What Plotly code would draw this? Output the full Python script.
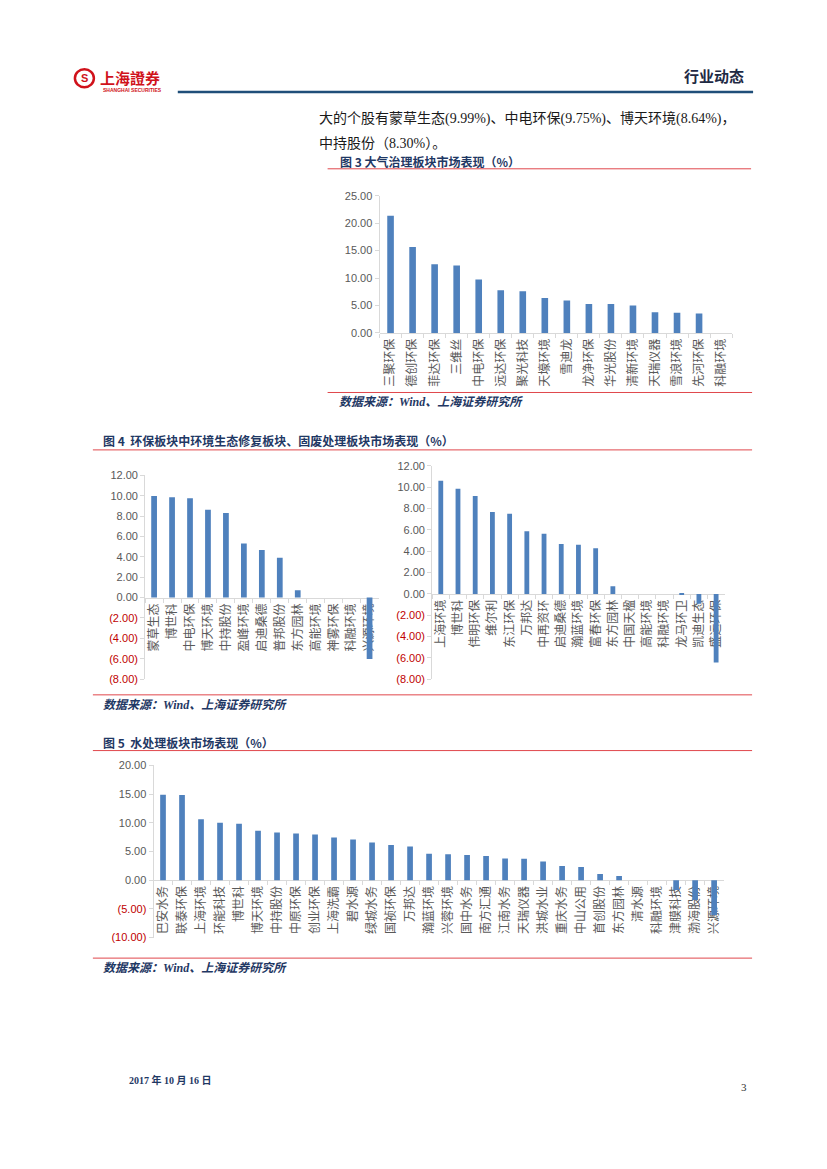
import plotly.graph_objects as go

W, H = 827, 1169


def px(x):
    return x / W


def py(y):
    return 1 - y / H


# ---------------- data ----------------
air_cats = ["三聚环保", "德创环保", "菲达环保", "三维丝", "中电环保", "远达环保", "聚光科技", "天壕环境",
            "雪迪龙", "龙净环保", "华光股份", "清新环境", "天瑞仪器", "雪浪环境", "先河环保", "科融环境"]
air_vals = [21.35, 15.64, 12.50, 12.30, 9.75, 7.76, 7.58, 6.37, 5.90, 5.29, 5.27, 5.00, 3.75, 3.67, 3.55, 0.0]

eco_cats = ["蒙草生态", "博世科", "中电环保", "博天环境", "中持股份", "盈峰环境", "启迪桑德", "普邦股份",
            "东方园林", "高能环境", "神雾环保", "科融环境", "兴源环境"]
eco_vals = [9.99, 9.86, 9.75, 8.64, 8.30, 5.32, 4.67, 3.92, 0.72, 0.0, 0.0, 0.0, -6.04]

waste_cats = ["上海环境", "博世科", "伟明环保", "维尔利", "东江环保", "万邦达", "中再资环", "启迪桑德",
              "瀚蓝环境", "富春环保", "东方园林", "中国天楹", "高能环境", "科融环境", "龙马环卫", "凯迪生态", "盛运环保"]
waste_vals = [10.62, 9.86, 9.18, 7.67, 7.51, 5.88, 5.63, 4.67, 4.60, 4.27, 0.72, 0.0, 0.0, 0.0, -0.10, -0.92, -6.43]

water_cats = ["巴安水务", "联泰环保", "上海环境", "环能科技", "博世科", "博天环境", "中持股份", "中原环保",
              "创业环保", "上海洗霸", "碧水源", "绿城水务", "国祯环保", "万邦达", "瀚蓝环境", "兴蓉环境",
              "国中水务", "南方汇通", "江南水务", "天瑞仪器", "洪城水业", "重庆水务", "中山公用", "首创股份",
              "东方园林", "清水源", "科融环境", "津膜科技", "渤海股份", "兴源环境"]
water_vals = [14.89, 14.83, 10.62, 10.02, 9.86, 8.64, 8.30, 8.13, 7.96, 7.45, 7.10, 6.59, 6.13, 5.88,
              4.60, 4.52, 4.41, 4.24, 3.78, 3.75, 3.26, 2.46, 2.29, 1.09, 0.72, 0.0, 0.0, -1.72, -3.44, -6.04]

air_ticks = [0, 5, 10, 15, 20, 25]
eco_ticks = [-8, -6, -4, -2, 0, 2, 4, 6, 8, 10, 12]
water_ticks = [-10, -5, 0, 5, 10, 15, 20]

# ---------------- style ----------------
BLUE = "#4F81BD"
AXIS = "#D9D9D9"
GREY = "#595959"
NEG = "#C00000"
NAVY = "#1F3864"
RED_LINE = "#E0474C"
CJK = "Noto Sans CJK SC"
NUM = "Liberation Sans"
SERIF = "Liberation Serif, Noto Sans CJK SC"


def fmt(v):
    if v < 0:
        return f'<span style="color:{NEG}">({abs(v):.2f})</span>'
    return f"{v:.2f}"


# panels: cats, vals, ticks, x-left px, x-right px, y-top px, y-bottom px, bar width
panels = [
    (air_cats, air_vals, air_ticks, 379, 732, 191.7, 330.3, 0.30),
    (eco_cats, eco_vals, eco_ticks, 144.3, 378, 474.3, 680, 0.32),
    (waste_cats, waste_vals, eco_ticks, 431.7, 724.6, 464.7, 680.2, 0.28),
    (water_cats, water_vals, water_ticks, 152.7, 723.5, 767.3, 941.3, 0.30),
]

fig = go.Figure()
layout_axes = {}
for i, (cats, vals, ticks, x0, x1, yt, yb, bw) in enumerate(panels, start=1):
    sfx = "" if i == 1 else str(i)
    fig.add_trace(go.Bar(x=cats, y=vals, xaxis=f"x{sfx}", yaxis=f"y{sfx}",
                         marker=dict(color=BLUE, line=dict(width=0)), width=bw,
                         showlegend=False, hoverinfo="x+y"))
    ymin, ymax = min(ticks), max(ticks)
    d0, d1 = py(yb), py(yt)
    zero_pos = d0 + (0 - ymin) / (ymax - ymin) * (d1 - d0)
    layout_axes[f"xaxis{sfx}"] = dict(
        domain=[px(x0), px(x1)], anchor="free", position=zero_pos, type="category",
        range=[-0.5, len(cats) - 0.5], showline=True, linecolor=AXIS, linewidth=1,
        ticks="outside", tickson="boundaries", ticklen=4, tickcolor=AXIS, tickwidth=1,
        tickangle=-90, tickfont=dict(family=CJK, size=12, color=GREY),
        showgrid=False, zeroline=False, layer="below traces", fixedrange=True)
    layout_axes[f"yaxis{sfx}"] = dict(
        domain=[d0, d1], anchor=f"x{sfx}", range=[ymin, ymax], tickmode="array",
        tickvals=ticks, ticktext=[fmt(t) for t in ticks], showline=True, linecolor=AXIS,
        linewidth=1, ticks="outside", ticklen=4, tickcolor=AXIS,
        tickfont=dict(family=NUM, size=11, color=GREY), showgrid=False, zeroline=False,
        fixedrange=True)

ann = []


def text(x, y, s, size=12, color="#000000", family=CJK, xanchor="left", bold=False, italic=False):
    if bold:
        s = f"<b>{s}</b>"
    if italic:
        s = f"<i>{s}</i>"
    ann.append(dict(x=px(x), y=py(y), xref="paper", yref="paper", text=s, showarrow=False,
                    xanchor=xanchor, yanchor="middle", font=dict(size=size, color=color, family=family)))


# header
text(97, 72, "上海證券", size=15, color="#D0121B", bold=True)
text(100, 84.5, "SHANGHAI SECURITIES", size=5, color="#D0121B", family=NUM, bold=True)
text(746, 70, "行业动态", size=15, color="#1F2A44", xanchor="right", bold=True)

# body text
text(316, 114, "大的个股有蒙草生态(9.99%)、中电环保(9.75%)、博天环境(8.64%)，", size=14, color="#1A1A1A", family=SERIF)
text(316, 139, "中持股份（8.30%）。", size=14, color="#1A1A1A", family=SERIF)

# figure titles & sources
text(337, 157, "图 3 大气治理板块市场表现（%）", size=12, color=NAVY, bold=True)
text(336, 400, "数据来源：Wind、上海证券研究所", size=12, color=NAVY, family=SERIF, bold=True, italic=True)
text(100, 439.5, "图 4  环保板块中环境生态修复板块、固废处理板块市场表现（%）", size=12, color=NAVY, bold=True)
text(100, 706, "数据来源：Wind、上海证券研究所", size=12, color=NAVY, family=SERIF, bold=True, italic=True)
text(100, 744.5, "图 5  水处理板块市场表现（%）", size=12, color=NAVY, bold=True)
text(100, 972, "数据来源：Wind、上海证券研究所", size=12, color=NAVY, family=SERIF, bold=True, italic=True)

# footer
text(126, 1085, "2017 年 10 月 16 日", size=10, color=NAVY, family=SERIF, bold=True)
text(749, 1092, "3", size=11, color="#333333", family="Liberation Serif", xanchor="right")

shapes = []


def hline(x0, x1, y, color, width):
    shapes.append(dict(type="line", xref="paper", yref="paper", x0=px(x0), x1=px(x1),
                       y0=py(y), y1=py(y), line=dict(color=color, width=width)))


hline(177, 753, 87, "#1F4E79", 2.5)
hline(327, 751, 164.5, RED_LINE, 1)
hline(327, 752, 390.5, RED_LINE, 1)
hline(92, 752, 448.5, RED_LINE, 1)
hline(92, 752, 696, RED_LINE, 1)
hline(92, 752, 752.3, RED_LINE, 1)
hline(92, 752, 962, RED_LINE, 1)

# logo circle
shapes.append(dict(type="circle", xref="paper", yref="paper", x0=px(74), x1=px(93), y0=py(82), y1=py(64),
                   line=dict(color="#D0121B", width=2.5)))
text(83.5, 73, "S", size=11, color="#D0121B", family=NUM, xanchor="center", bold=True)

fig.update_layout(width=W, height=H, margin=dict(l=0, r=0, t=0, b=0), paper_bgcolor="white",
                  plot_bgcolor="rgba(0,0,0,0)", annotations=ann, shapes=shapes, showlegend=False,
                  **layout_axes)

post = (
    "document.documentElement.style.margin='0';"
    "document.body.style.margin='0';document.body.style.padding='0';"
    "document.documentElement.style.overflow='hidden';document.body.style.overflow='hidden';"
    "var gd=document.getElementById('{plot_id}');"
    "var wrap=gd.parentElement;wrap.style.position='fixed';wrap.style.top='0';wrap.style.left='0';"
    "wrap.style.margin='0';wrap.style.padding='0';"
)
fig.write_html("out.html", config={"displayModeBar": False}, post_script=post)
